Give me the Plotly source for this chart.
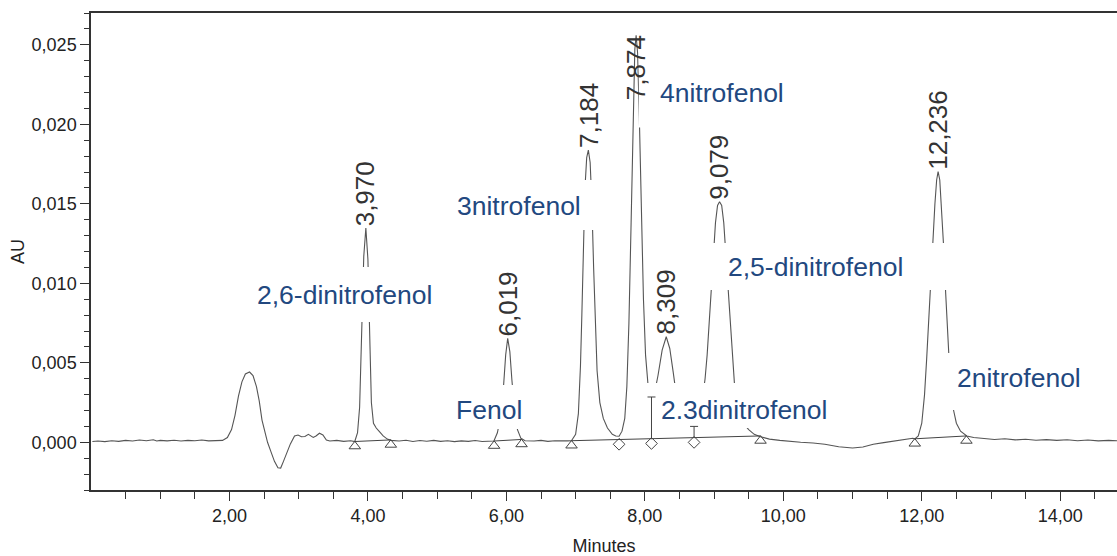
import numpy as np
import plotly.graph_objects as go

# ---------------- data ----------------
time_min = [
    0.02, 0.10, 0.20, 0.30, 0.40, 0.50, 0.60, 0.70, 0.80, 0.90, 0.95, 1.00, 1.10, 1.20, 1.30,
    1.40, 1.50, 1.60, 1.70, 1.80,
    1.90, 1.97, 2.03, 2.08, 2.13, 2.18, 2.23, 2.29, 2.34, 2.39, 2.43, 2.47, 2.51, 2.55, 2.60,
    2.65, 2.70, 2.74, 2.78, 2.83, 2.88, 2.94, 2.99, 3.04, 3.09, 3.14, 3.18, 3.21, 3.25, 3.30,
    3.35, 3.40, 3.45, 3.55, 3.65, 3.75,
    3.81, 3.85, 3.88, 3.91, 3.94, 3.97, 4.00, 4.03, 4.05, 4.08, 4.12, 4.16, 4.22, 4.28, 4.33,
    4.45, 4.55, 4.65, 4.75, 4.85, 4.95, 5.05, 5.15, 5.25, 5.35, 5.45, 5.55, 5.65, 5.75,
    5.82, 5.87, 5.92, 5.96, 5.99, 6.019, 6.05, 6.08, 6.12, 6.16, 6.21, 6.27, 6.40, 6.50, 6.60,
    6.70, 6.80, 6.88,
    6.94, 7.00, 7.04, 7.07, 7.09, 7.11, 7.135, 7.16, 7.184, 7.21, 7.235, 7.26, 7.285, 7.31,
    7.35, 7.40, 7.46, 7.53, 7.58, 7.628, 7.67, 7.71, 7.74, 7.77, 7.80, 7.83, 7.855, 7.874,
    7.895, 7.92, 7.95, 7.98, 8.01, 8.05, 8.096, 8.14, 8.19, 8.25, 8.309, 8.36, 8.41, 8.46,
    8.52, 8.58, 8.65, 8.711, 8.76, 8.80, 8.84, 8.87, 8.90, 8.94, 8.98, 9.02, 9.05, 9.079,
    9.11, 9.14, 9.18, 9.22, 9.26, 9.30, 9.35, 9.42, 9.50, 9.58, 9.67, 9.80, 9.95, 10.10,
    10.25, 10.43, 10.60, 10.80, 11.00, 11.15, 11.30, 11.45, 11.60, 11.75, 11.87,
    11.90, 11.95, 12.00, 12.04, 12.07, 12.10, 12.13, 12.16, 12.19, 12.215, 12.236, 12.26,
    12.29, 12.32, 12.345, 12.37, 12.39, 12.43, 12.46, 12.50, 12.56, 12.65, 12.75, 12.90,
    13.05, 13.20, 13.35, 13.50, 13.65, 13.80, 13.95, 14.10, 14.25, 14.40, 14.55, 14.70, 14.82,
]
absorbance_au = [
    0.00005, 0.00008, 0.00004, 0.00010, 0.00006, 0.00012, 0.00008, 0.00014, 0.00010, 0.00016,
    0.00008, 0.00012, 0.00009, 0.00013, 0.00008, 0.00012, 0.00010, 0.00014, 0.00009, 0.00011,
    0.00012, 0.00030, 0.00080, 0.00170, 0.00290, 0.00380, 0.00430, 0.00442, 0.00420, 0.00350,
    0.00260, 0.00140, 0.00060, 0.00000, -0.00060, -0.00120, -0.00160, -0.00162, -0.00120,
    -0.00060, -0.00010, 0.00040, 0.00046, 0.00035, 0.00036, 0.00050, 0.00040, 0.00031,
    0.00040, 0.00057, 0.00046, 0.00014, 0.00008, 0.00012, 0.00006, 0.00010,
    0.00005, 0.00060, 0.00220, 0.00680, 0.01170, 0.01348, 0.01150, 0.00600, 0.00250, 0.00120,
    0.00090, 0.00070, 0.00040, 0.00020, 0.00012,
    0.00008, 0.00013, 0.00005, 0.00011, 0.00007, 0.00012, 0.00006, 0.00010, 0.00004, 0.00009,
    0.00006, 0.00011, 0.00005, 0.00008,
    0.00008, 0.00060, 0.00170, 0.00360, 0.00550, 0.00654, 0.00570, 0.00390, 0.00190, 0.00080,
    0.00025, 0.00010, 0.00008, 0.00012, 0.00006, 0.00010, 0.00007, 0.00009,
    0.00010, 0.00050, 0.00180, 0.00480, 0.00800, 0.01200, 0.01600, 0.01790, 0.01838, 0.01760,
    0.01500, 0.01100, 0.00700, 0.00450, 0.00250, 0.00150, 0.00090, 0.00050, 0.00040, 0.00038,
    0.00070, 0.00150, 0.00350, 0.00750, 0.01350, 0.02050, 0.02470, 0.02560, 0.02450, 0.02050,
    0.01450, 0.00900, 0.00550, 0.00340, 0.00285, 0.00310, 0.00420, 0.00580, 0.00664, 0.00590,
    0.00440, 0.00280, 0.00170, 0.00120, 0.00100, 0.00100, 0.00130, 0.00200, 0.00300, 0.00400,
    0.00550, 0.00800, 0.01100, 0.01380, 0.01490, 0.01513, 0.01490, 0.01380, 0.01120, 0.00820,
    0.00540, 0.00330, 0.00200, 0.00120, 0.00080, 0.00050, 0.00035, 0.00020, 0.00012, 0.00004,
    0.00000, -0.00004, -0.00012, -0.00028, -0.00036, -0.00030, -0.00012, -0.00002, 0.00008,
    0.00015, 0.00025,
    0.00022, 0.00040, 0.00120, 0.00300, 0.00520, 0.00780, 0.01020, 0.01270, 0.01500, 0.01650,
    0.01702, 0.01650, 0.01450, 0.01200, 0.00940, 0.00700, 0.00560, 0.00330, 0.00200, 0.00120,
    0.00070, 0.00040, 0.00030, 0.00024, 0.00018, 0.00022, 0.00015, 0.00019, 0.00013, 0.00017,
    0.00012, 0.00016, 0.00010, 0.00014, 0.00009, 0.00012, 0.00010,
]

# retention times / apex heights of the labelled peaks
peak_times = [3.970, 6.019, 7.184, 7.874, 8.309, 9.079, 12.236]
peak_heights = [0.01348, 0.00654, 0.01838, 0.02560, 0.00664, 0.01513, 0.01702]

# integration baselines: (start, end) times and values
baseline_start_t = [3.811, 5.823, 6.941, 11.899]
baseline_end_t = [4.331, 6.219, 9.671, 12.645]
baseline_start_v = [0.00005, 0.00008, 0.00010, 0.00022]
baseline_end_v = [0.00015, 0.00018, 0.00040, 0.00040]
drop_times = [7.628, 8.096, 8.711]          # diamond (valley split) points

compound_names = ["2,6-dinitrofenol", "Fenol", "3nitrofenol", "4nitrofenol",
                  "2.3dinitrofenol", "2,5-dinitrofenol", "2nitrofenol"]

x_tick_vals = [2, 4, 6, 8, 10, 12, 14]
y_tick_vals = [0.000, 0.005, 0.010, 0.015, 0.020, 0.025]

# ---------------- layout helpers ----------------
FONT = "Liberation Sans, Arial, sans-serif"
BLUE = "#22487f"
GREY = "#555555"

# text-box positions (center of each blue name) and white box extents
name_pos = [(3.667, 0.00926), (5.747, 0.00203), (6.18, 0.01486), (9.11, 0.02197),
            (9.43, 0.00203), (10.47, 0.01103), (13.40, 0.00404)]
name_boxes = [(2.324, 5.04, 0.00757, 0.01103), (5.183, 6.296, 0.00084, 0.00360),
              (5.183, 7.32, 0.01335, 0.01650), (7.913, 10.24, 0.01980, 0.02620),
              (7.985, 10.787, 0.00090, 0.00373), (8.866, 12.434, 0.00958, 0.01253),
              (12.347, 14.57, 0.00203, 0.00562)]

fig = go.Figure()

# chromatogram
fig.add_trace(go.Scatter(x=time_min, y=absorbance_au, mode="lines",
                         line=dict(color=GREY, width=1.1), hoverinfo="skip"))

# integration baselines + markers
off = 0.00030
for ts, te, vs, ve in zip(baseline_start_t, baseline_end_t, baseline_start_v, baseline_end_v):
    fig.add_trace(go.Scatter(x=[ts, te], y=[vs, ve], mode="lines",
                             line=dict(color="#444444", width=1), hoverinfo="skip"))
    fig.add_trace(go.Scatter(x=[ts, te], y=[vs - off, ve - off], mode="markers",
                             marker=dict(symbol="triangle-up-open", size=10,
                                         color="#444444", line=dict(width=1)),
                             hoverinfo="skip"))

# diamonds on the long baseline
bl_t = [baseline_start_t[2], baseline_end_t[2]]
bl_v = [baseline_start_v[2], baseline_end_v[2]]
drop_base = np.interp(drop_times, bl_t, bl_v)
drop_top = np.interp(drop_times, time_min, absorbance_au)
fig.add_trace(go.Scatter(x=drop_times, y=drop_base - off, mode="markers",
                         marker=dict(symbol="diamond-open", size=9, color="#444444",
                                     line=dict(width=1)), hoverinfo="skip"))

shapes = []
for (x0, x1, y0, y1) in name_boxes:
    shapes.append(dict(type="rect", xref="x", yref="y", x0=x0, x1=x1, y0=y0, y1=y1,
                       fillcolor="white", line=dict(width=0), layer="above"))
# drop lines (drawn over the white boxes)
for t, b, top in zip(drop_times, drop_base, drop_top):
    if top - b > 0.0003:
        shapes.append(dict(type="line", xref="x", yref="y", x0=t, x1=t, y0=b, y1=top,
                           line=dict(color="#444444", width=1), layer="above"))
        shapes.append(dict(type="line", xref="x", yref="y", xsizemode="pixel", xanchor=t,
                           x0=-4, x1=4, y0=top, y1=top,
                           line=dict(color="#444444", width=1), layer="above"))

annotations = []
for t, h in zip(peak_times, peak_heights):
    lab = f"{t:.3f}".replace(".", ",")
    if h > 0.024:
        # label pushed down so that it stays inside the plot frame
        annotations.append(dict(x=t - 0.01, y=h, text=lab, textangle=-90, showarrow=False,
                                xanchor="center", yanchor="top", yshift=2,
                                font=dict(family=FONT, size=26, color="#333333")))
    else:
        annotations.append(dict(x=t, y=h, text=lab, textangle=-90, showarrow=False,
                                xanchor="center", yanchor="bottom", yshift=0,
                                font=dict(family=FONT, size=26, color="#333333")))
for name, (x, y) in zip(compound_names, name_pos):
    annotations.append(dict(x=x, y=y, text=name, showarrow=False,
                            xanchor="center", yanchor="middle",
                            font=dict(family=FONT, size=26.5, color=BLUE)))

minor_x = [v / 2 for v in range(1, 30) if v % 4 != 0]
minor_y = [v / 1000 for v in range(-3, 28) if v % 5 != 0]

fig.update_layout(
    width=1117, height=556,
    margin=dict(l=91, r=0, t=13, b=66),
    paper_bgcolor="white", plot_bgcolor="white",
    showlegend=False,
    separators=",.",
    shapes=shapes, annotations=annotations,
    font=dict(family=FONT, size=18, color="#222222"),
    xaxis=dict(range=[0, 14.82], tickvals=x_tick_vals, tickformat=".2f",
               ticks="outside", ticklen=9, tickwidth=1, tickcolor="#333333",
               showline=True, linecolor="#333333", linewidth=1.5, mirror=True,
               showgrid=False, zeroline=False,
               minor=dict(tickvals=minor_x, ticks="outside", ticklen=7, tickwidth=1,
                          tickcolor="#333333", showgrid=False),
               title=dict(text="Minutes", font=dict(size=18, color="#222222"), standoff=14),
               tickfont=dict(size=18, color="#222222")),
    yaxis=dict(range=[-0.003, 0.027], tickvals=y_tick_vals, tickformat=".3f",
               ticks="outside", ticklen=9, tickwidth=1, tickcolor="#333333",
               showline=True, linecolor="#333333", linewidth=1.5, mirror=False,
               showgrid=False, zeroline=False,
               minor=dict(tickvals=minor_y, ticks="outside", ticklen=5, tickwidth=1,
                          tickcolor="#333333", showgrid=False),
               title=dict(text="AU", font=dict(size=18, color="#222222"), standoff=2),
               tickfont=dict(size=18, color="#222222")),
)

fig.write_html("out.html", config={"displayModeBar": False})
